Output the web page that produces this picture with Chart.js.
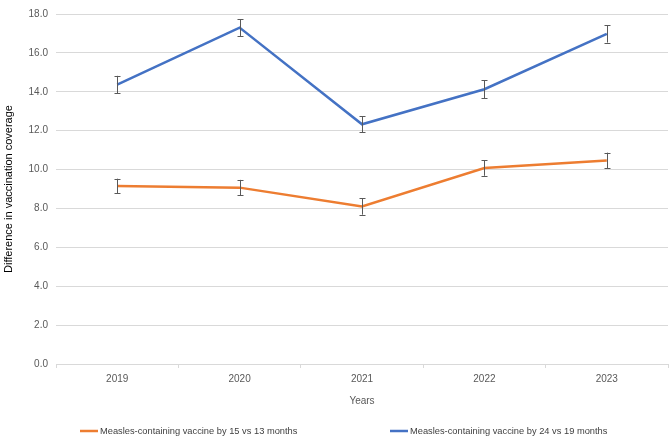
<!DOCTYPE html>
<html>
<head>
<meta charset="utf-8">
<script src="https://cdn.jsdelivr.net/npm/chart.js@4.4.1/dist/chart.umd.min.js"></script>
<style>
  html, body { margin: 0; padding: 0; background: #ffffff; }
  #wrap { width: 672px; height: 436px; }
</style>
</head>
<body>
<div id="wrap"><canvas id="c" width="672" height="436"></canvas></div>
<script>
const categories = ['2019', '2020', '2021', '2022', '2023'];
const mcv15vs13 = [9.15, 9.07, 8.10, 10.08, 10.47];
const mcv24vs19 = [14.37, 17.30, 12.33, 14.13, 16.98];
const err15vs13 = [0.38, 0.40, 0.42, 0.40, 0.40];
const err24vs19 = [0.45, 0.43, 0.42, 0.45, 0.45];
const yTicks = [0, 2, 4, 6, 8, 10, 12, 14, 16, 18];
const seriesLabels = ['Measles-containing vaccine by 15 vs 13 months', 'Measles-containing vaccine by 24 vs 19 months'];
const xTitle = 'Years';
const yTitle = 'Difference in vaccination coverage';

const ORANGE = '#ed7d31';
const BLUE = '#4472c4';
const GRID = '#d9d9d9';
const TICK = '#595959';
const FONT = "'Liberation Sans', Arial, sans-serif";

const errorBarPlugin = {
  id: 'errorBars',
  afterDatasetsDraw(chart) {
    const ctx = chart.ctx;
    const ys = chart.scales.y;
    ctx.save();
    ctx.strokeStyle = '#595959';
    ctx.lineWidth = 1;
    chart.data.datasets.forEach((ds, i) => {
      const meta = chart.getDatasetMeta(i);
      meta.data.forEach((pt, j) => {
        const v = ds.data[j];
        const e = ds.errors[j];
        const x = Math.round(pt.x) + 0.5;
        const y1 = ys.getPixelForValue(v + e);
        const y2 = ys.getPixelForValue(v - e);
        ctx.beginPath();
        ctx.moveTo(x, y1); ctx.lineTo(x, y2);
        ctx.moveTo(x - 3, Math.round(y1) + 0.5); ctx.lineTo(x + 3, Math.round(y1) + 0.5);
        ctx.moveTo(x - 3, Math.round(y2) + 0.5); ctx.lineTo(x + 3, Math.round(y2) + 0.5);
        ctx.stroke();
      });
    });
    ctx.restore();
  }
};

const legendPlugin = {
  id: 'customLegend',
  afterDraw(chart) {
    const ctx = chart.ctx;
    const starts = [80, 390];
    const y = 431;
    ctx.save();
    ctx.font = "9.3px 'Liberation Sans', Arial, sans-serif";
    ctx.textBaseline = 'middle';
    ctx.fillStyle = '#404040';
    chart.data.datasets.forEach((ds, i) => {
      const x = starts[i];
      ctx.strokeStyle = ds.borderColor;
      ctx.lineWidth = 2.5;
      ctx.beginPath();
      ctx.moveTo(x, y); ctx.lineTo(x + 18, y);
      ctx.stroke();
      ctx.fillText(ds.label, x + 20, y);
    });
    ctx.restore();
  }
};

new Chart(document.getElementById('c'), {
  type: 'line',
  data: {
    labels: categories,
    datasets: [
      { label: seriesLabels[0], data: mcv15vs13, errors: err15vs13, borderColor: ORANGE, backgroundColor: ORANGE, borderWidth: 2.5, pointRadius: 0, tension: 0 },
      { label: seriesLabels[1], data: mcv24vs19, errors: err24vs19, borderColor: BLUE, backgroundColor: BLUE, borderWidth: 2.5, pointRadius: 0, tension: 0 }
    ]
  },
  plugins: [errorBarPlugin, legendPlugin],
  options: {
    responsive: false,
    animation: false,
    layout: { padding: { top: 4, right: 4, left: 0, bottom: 0 } },
    plugins: { legend: { display: false }, tooltip: { enabled: false } },
    scales: {
      x: {
        offset: true,
        grid: { offset: true, drawOnChartArea: false, drawTicks: true, tickLength: 4, color: GRID },
        border: { display: true, color: GRID },
        ticks: { color: TICK, font: { family: FONT, size: 10 }, padding: 5, maxRotation: 0 },
        title: { display: true, text: xTitle, color: TICK, font: { family: FONT, size: 10 }, padding: { top: 0, bottom: 29 } },
        afterFit(scale) { scale.height = 72; }
      },
      y: {
        min: 0, max: 18,
        afterBuildTicks(scale) { scale.ticks = yTicks.map(v => ({ value: v })); },
        grid: { color: GRID, drawTicks: false },
        border: { display: false },
        ticks: { color: TICK, font: { family: FONT, size: 10 }, padding: 8, callback: v => Number(v).toFixed(1) },
        title: { display: true, text: yTitle, color: '#000000', font: { family: FONT, size: 11 }, padding: { top: 2, bottom: 0 } },
        afterFit(scale) { scale.width = 56; }
      }
    }
  }
});
</script>
</body>
</html>
